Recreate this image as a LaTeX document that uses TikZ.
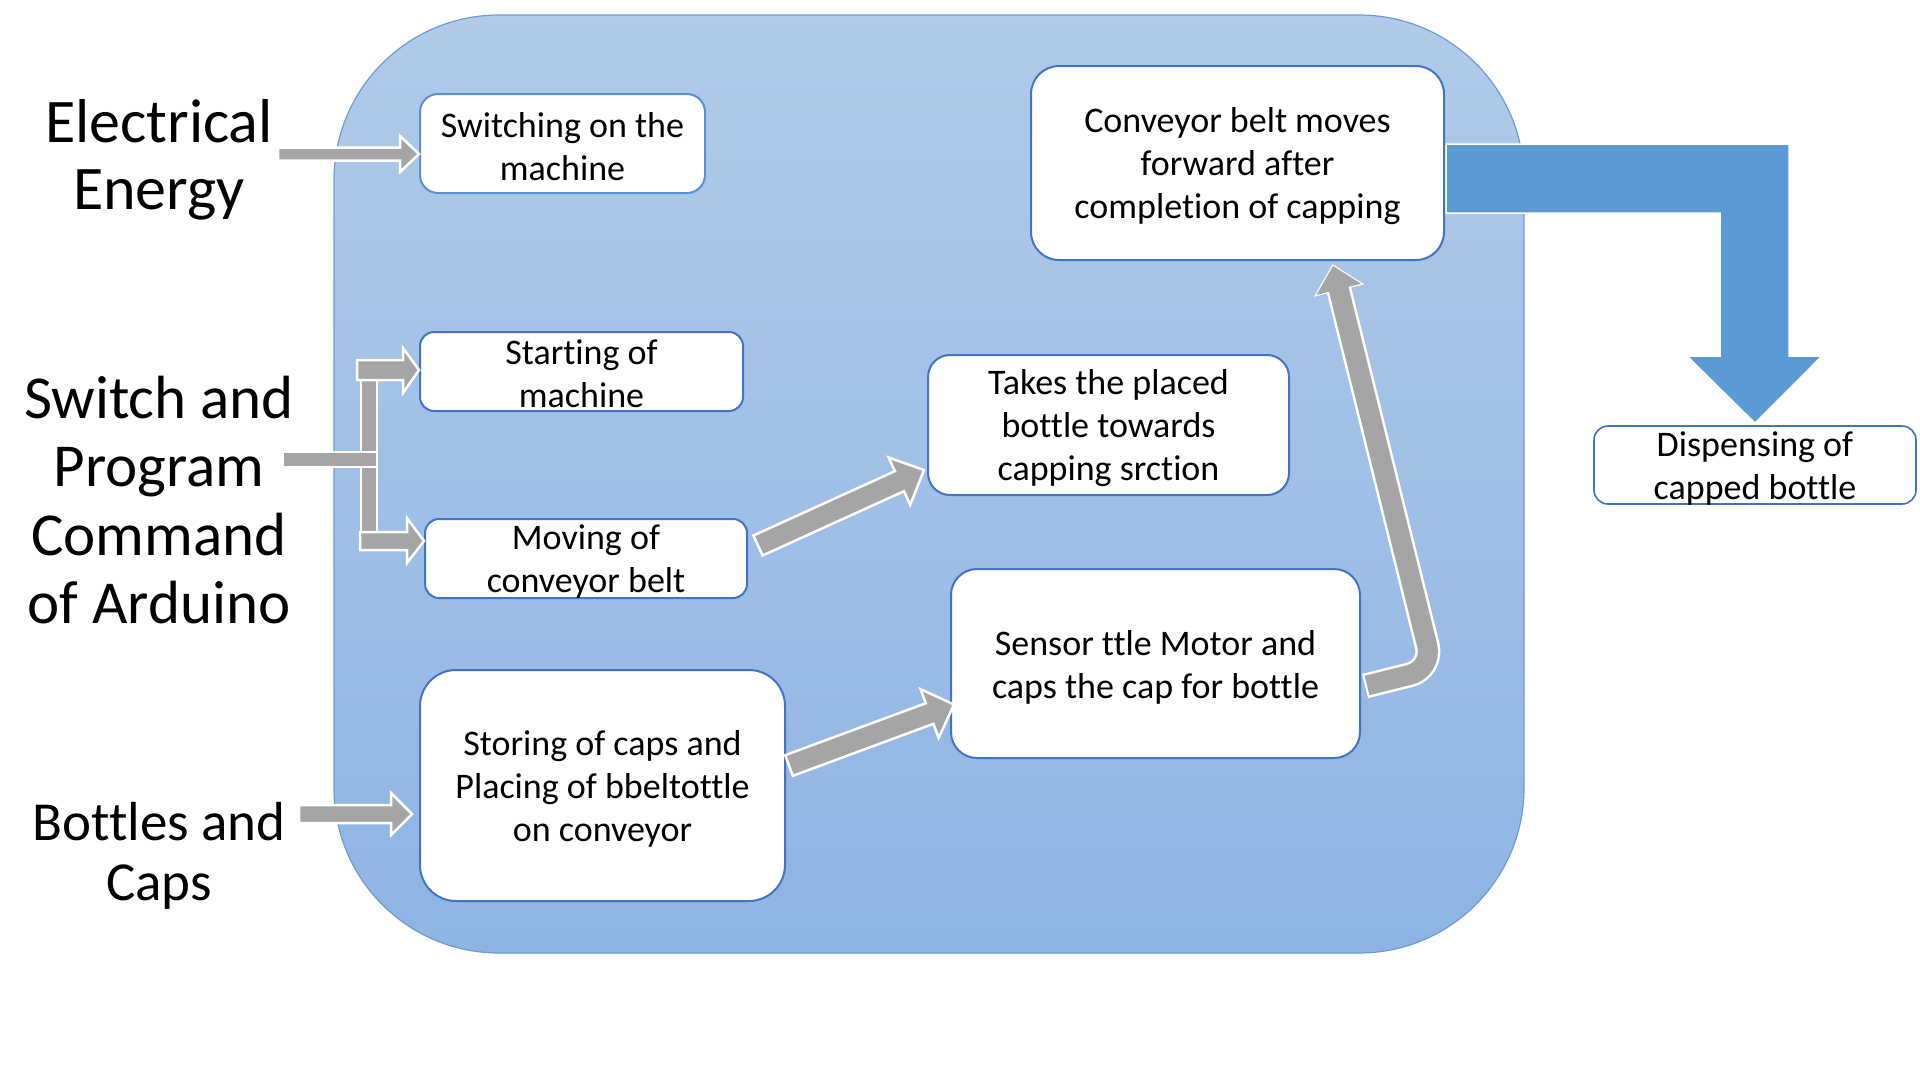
\documentclass[tikz,border=0pt]{standalone}
\usepackage{fontspec}
\setmainfont{Carlito}[RawFeature={-liga;-clig;-calt;-dlig;-rlig}]
\usetikzlibrary{calc}
\definecolor{arrowgray}{HTML}{A5A5A5}
\definecolor{paneltop}{HTML}{B1CBE9}
\definecolor{panelbot}{HTML}{8EB4E3}
\definecolor{panelline}{HTML}{6F9BD3}
\definecolor{boxblue}{HTML}{4472C4}
\definecolor{boxlight}{HTML}{5B8FD0}
\definecolor{bigblue}{HTML}{5B9BD5}
\tikzset{
  procbox/.style={draw=boxblue, line width=2pt, fill=white, inner sep=0pt},
  boxtext/.style={align=center, inner sep=0pt, text=black, yshift=-3.5pt,
    font=\fontsize{36}{43}\selectfont},
  sidelabel/.style={align=center, inner sep=0pt, text=black},
  grayarrow/.style={fill=arrowgray, draw=white, line width=2.5pt, line join=miter},
  bigarrow/.style={fill=bigblue, draw=white, line width=1.5pt, line join=miter},
}
\newcommand\blockarrow[5]{%
  \coordinate (ba-h) at ($(#2)!#5!(#1)$);
  \draw[grayarrow] ($(#1)!#3!90:(#2)$) -- ($(ba-h)!#3!90:(#2)$) -- ($(ba-h)!#4!90:(#2)$)
    -- (#2) -- ($(ba-h)!#4!-90:(#2)$) -- ($(ba-h)!#3!-90:(#2)$) -- ($(#1)!#3!-90:(#2)$) -- cycle;
}
\begin{document}
\begin{tikzpicture}[x=1pt,y=-1pt]
\useasboundingbox (0,0) rectangle (1920,1080);
\fill[white] (0,0) rectangle (1920,1080);

% panel
\node[draw=panelline, line width=1.2pt, top color=paneltop, bottom color=panelbot,
  rounded corners=165pt, minimum width=1190pt, minimum height=938pt, inner sep=0pt]
  (panel) at (929,484) {};

% side labels
\node[sidelabel, font=\fontsize{62}{67}\selectfont] (lelec) at (159,159.5) {Electrical\\Energy};
\node[sidelabel, font=\fontsize{61}{68.5}\selectfont] (lswitch) at (159,500) {Switch and\\Program\\Command\\of Arduino};
\node[sidelabel, font=\fontsize{55}{60}\selectfont] (lbottle) at (159,855.5) {Bottles and\\Caps};

% boxes
\node[procbox, draw=boxlight, rounded corners=18pt, minimum width=285pt, minimum height=99pt,
  label={[boxtext]center:{Switching on the\\machine}}] (b1) at (562.5,143.5) {};
\node[procbox, rounded corners=14pt, minimum width=323pt, minimum height=79pt,
  label={[boxtext, yshift=1.5pt]center:{Starting of\\machine}}] (b2) at (581.5,371.5) {};
\node[procbox, rounded corners=14pt, minimum width=322pt, minimum height=79pt,
  label={[boxtext]center:{Moving of\\conveyor belt}}] (b3) at (586,558.5) {};
\node[procbox, rounded corners=36pt, minimum width=365pt, minimum height=231pt,
  label={[boxtext]center:{Storing of caps and\\Placing of bbeltottle\\on conveyor}}] (b4) at (602.5,785.5) {};
\node[procbox, rounded corners=22pt, minimum width=361pt, minimum height=140pt,
  label={[boxtext]center:{Takes the placed\\bottle towards\\capping srction}}] (b5) at (1108.5,425) {};
\node[procbox, rounded corners=26pt, minimum width=409pt, minimum height=189pt,
  label={[boxtext]center:{Sensor ttle Motor and\\caps the cap for bottle}}] (b6) at (1155.5,663.5) {};
\node[procbox, rounded corners=28pt, minimum width=413pt, minimum height=194pt,
  label={[boxtext]center:{Conveyor belt moves\\forward after\\completion of capping}}] (b7) at (1237.5,163) {};
\node[procbox, line width=1.6pt, rounded corners=14pt, minimum width=322pt, minimum height=78pt,
  label={[boxtext]center:{Dispensing of\\capped bottle}}] (b8) at (1755,465) {};

% Electrical -> switching on
\coordinate (aes) at (278,154);
\coordinate (aee) at (b1.west |- aes);
\blockarrow{aes}{aee}{6.5pt}{18pt}{19pt}

% Bottles -> storing
\coordinate (abs) at (299,814);
\coordinate (abe) at ($(b4.west)+(-7,28.5)$);
\blockarrow{abs}{abe}{9pt}{21pt}{21pt}

% fork from Switch/Program
\draw[grayarrow] (361,380) rectangle (377,452);
\draw[grayarrow] (361,467) rectangle (377,532);
\draw[grayarrow] (357,360) -- (403,360) -- (403,348) -- ($(b2.west)+(0,-1.5)$) -- (403,393) -- (403,380) -- (357,380) -- cycle;
\draw[grayarrow] (360,532) -- (407,532) -- (407,518) -- ($(b3.west)+(0,-17.5)$) -- (407,563) -- (407,550) -- (360,550) -- cycle;
\draw[grayarrow] (283,452) rectangle (377,467);

% Moving -> Takes
\coordinate (acs) at ($(b3.east)+(10,-13)$);
\coordinate (ace) at ($(b5.west)+(-3,45)$);
\blockarrow{acs}{ace}{11pt}{26pt}{27pt}

% Storing -> Sensor
\coordinate (ads) at ($(b4.east)+(3,-20)$);
\coordinate (ade) at ($(b6.west)+(4,41)$);
\blockarrow{ads}{ade}{11pt}{26pt}{26pt}

% Sensor -> Conveyor (bent)
\coordinate (js) at ($(b6.east)+(6,22)$);
\coordinate (jc) at (1433,669);
\coordinate (jt) at ($(b7.south)+(95.5,5)$);
\coordinate (jb) at ($(jt)!24pt!(jc)$);
\draw[white, line width=25pt, rounded corners=24pt, shorten <=-2pt] (js) -- (jc) -- (jb);
\draw[white, fill=white, line width=2.5pt, line join=miter] ($(jb)!23pt!90:(jt)$) -- (jt) -- ($(jb)!23pt!-90:(jt)$) -- cycle;
\draw[arrowgray, line width=20pt, rounded corners=24pt] (js) -- (jc) -- ($(jb)!1pt!(jt)$);
\fill[arrowgray] ($(jb)!23pt!90:(jt)$) -- (jt) -- ($(jb)!23pt!-90:(jt)$) -- cycle;

% big blue arrow
\draw[bigarrow] ($(b7.east)+(1,-19)$) -- (1789,144) -- (1789,356) -- (1822,356) -- ($(b8.north)+(0,-2)$)
  -- (1687,356) -- (1720,356) -- (1720,213) -- ($(b7.east)+(1,50)$) -- cycle;
\end{tikzpicture}
\end{document}
